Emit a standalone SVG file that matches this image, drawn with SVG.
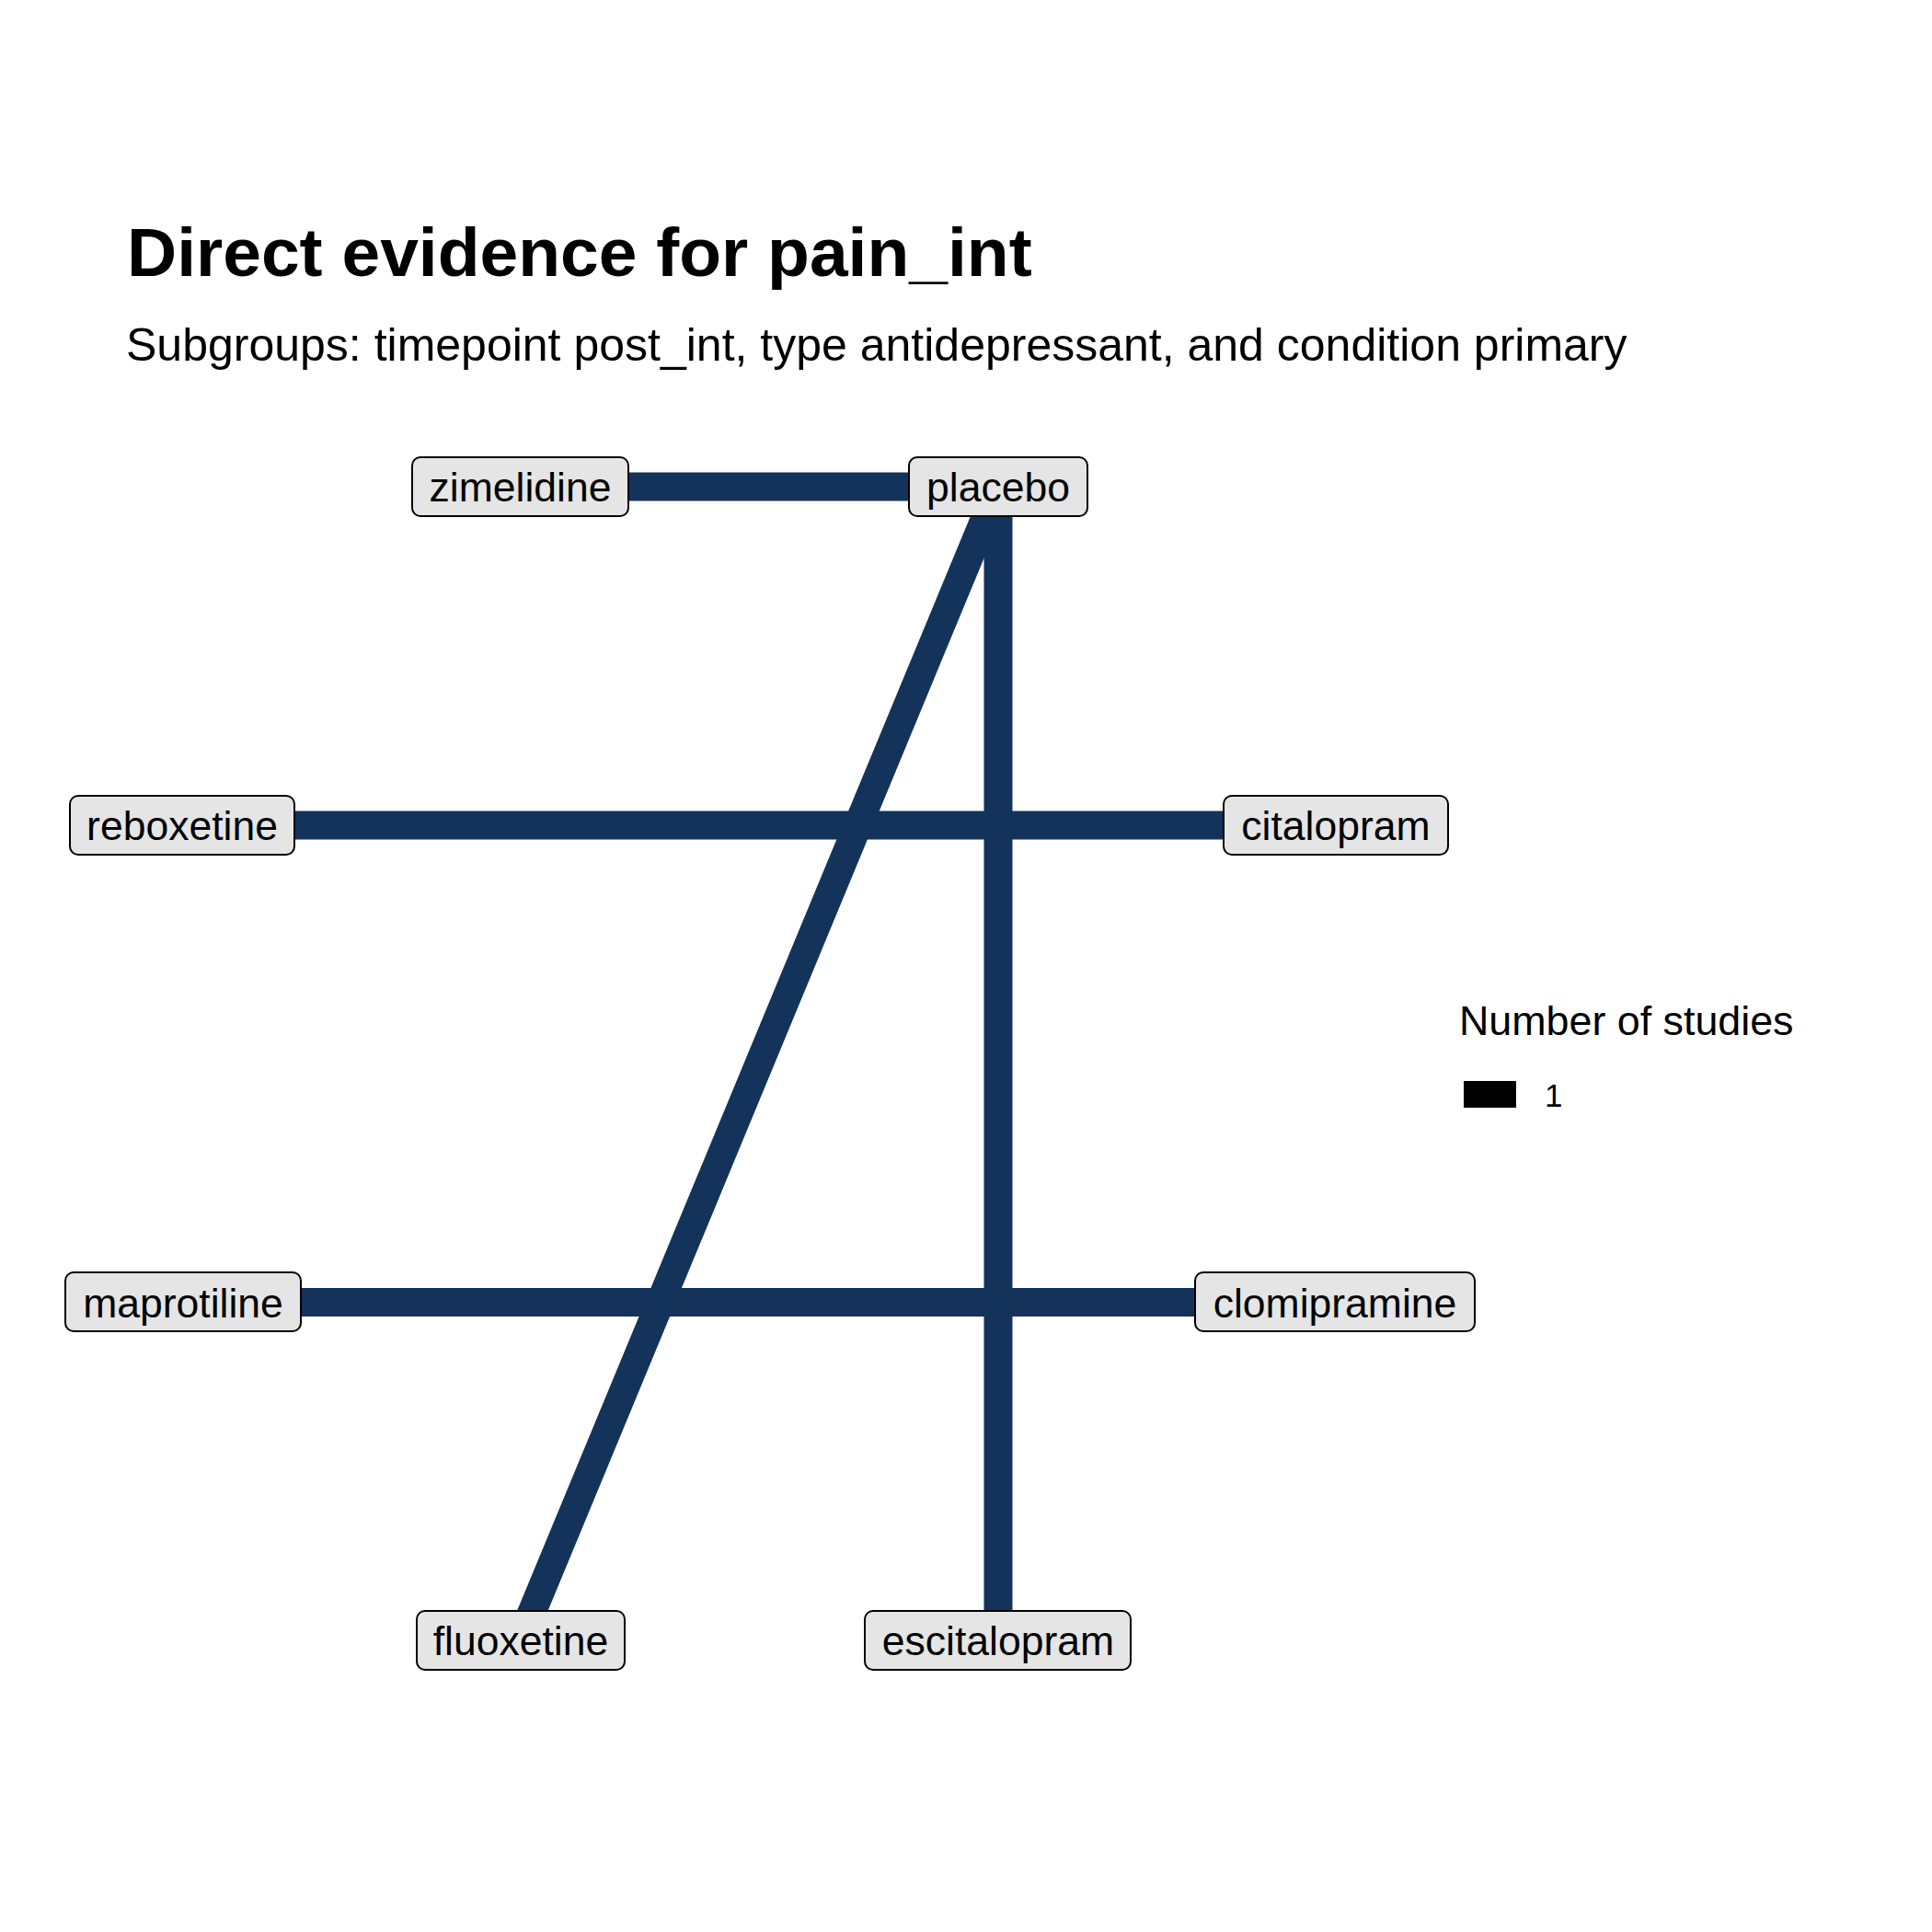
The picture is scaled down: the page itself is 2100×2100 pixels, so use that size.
<svg xmlns="http://www.w3.org/2000/svg" width="2100" height="2100" viewBox="0 0 2100 2100">
<style>
.edge{stroke:#13335B;stroke-width:31;stroke-linecap:butt;fill:none}
.box{fill:#E5E5E5;stroke:#000;stroke-width:2}
.lbl{font-family:"Liberation Sans",Arial,sans-serif;font-size:44.5px;fill:#000;text-anchor:middle}
.title{font-family:"Liberation Sans",Arial,sans-serif;font-size:75px;font-weight:bold;fill:#000}
.sub{font-family:"Liberation Sans",Arial,sans-serif;font-size:50px;fill:#000}
.leg{font-family:"Liberation Sans",Arial,sans-serif;font-size:44.8px;fill:#000}
.legk{font-family:"Liberation Sans",Arial,sans-serif;font-size:35px;fill:#000}
</style>
<rect width="2100" height="2100" fill="#fff"/>
<text class="title" x="138" y="300">Direct evidence for pain_int</text>
<text class="sub" x="137" y="392">Subgroups: timepoint post_int, type antidepressant, and condition primary</text>
<g id="connectors">
<line class="edge" x1="565.5" y1="529" x2="1085" y2="529"/>
<line class="edge" x1="198" y1="897" x2="1452" y2="897"/>
<line class="edge" x1="199" y1="1415.5" x2="1451" y2="1415.5"/>
<line class="edge" x1="1085" y1="529" x2="1085" y2="1783"/>
<line class="edge" x1="565.5" y1="1783" x2="1085" y2="529"/>
</g>
<g id="zimelidine"><rect class="box" x="448" y="497" width="235" height="64" rx="9"/><text class="lbl" x="565.5" y="545">zimelidine</text></g>
<g id="placebo"><rect class="box" x="988" y="497" width="194" height="64" rx="9"/><text class="lbl" x="1085" y="545">placebo</text></g>
<g id="reboxetine"><rect class="box" x="76" y="865" width="244" height="64" rx="9"/><text class="lbl" x="198" y="913">reboxetine</text></g>
<g id="citalopram"><rect class="box" x="1330" y="865" width="244" height="64" rx="9"/><text class="lbl" x="1452" y="913">citalopram</text></g>
<g id="maprotiline"><rect class="box" x="71" y="1383" width="256" height="64" rx="9"/><text class="lbl" x="199" y="1432">maprotiline</text></g>
<g id="clomipramine"><rect class="box" x="1299" y="1383" width="304" height="64" rx="9"/><text class="lbl" x="1451" y="1432">clomipramine</text></g>
<g id="fluoxetine"><rect class="box" x="453" y="1751" width="226" height="64" rx="9"/><text class="lbl" x="566" y="1799">fluoxetine</text></g>
<g id="escitalopram"><rect class="box" x="940" y="1751" width="289" height="64" rx="9"/><text class="lbl" x="1085" y="1799">escitalopram</text></g>
<g id="legend">
<text class="leg" x="1586" y="1125">Number of studies</text>
<rect x="1591" y="1175" width="57" height="29" fill="#000"/>
<text class="legk" x="1679" y="1203">1</text>
</g>
</svg>
